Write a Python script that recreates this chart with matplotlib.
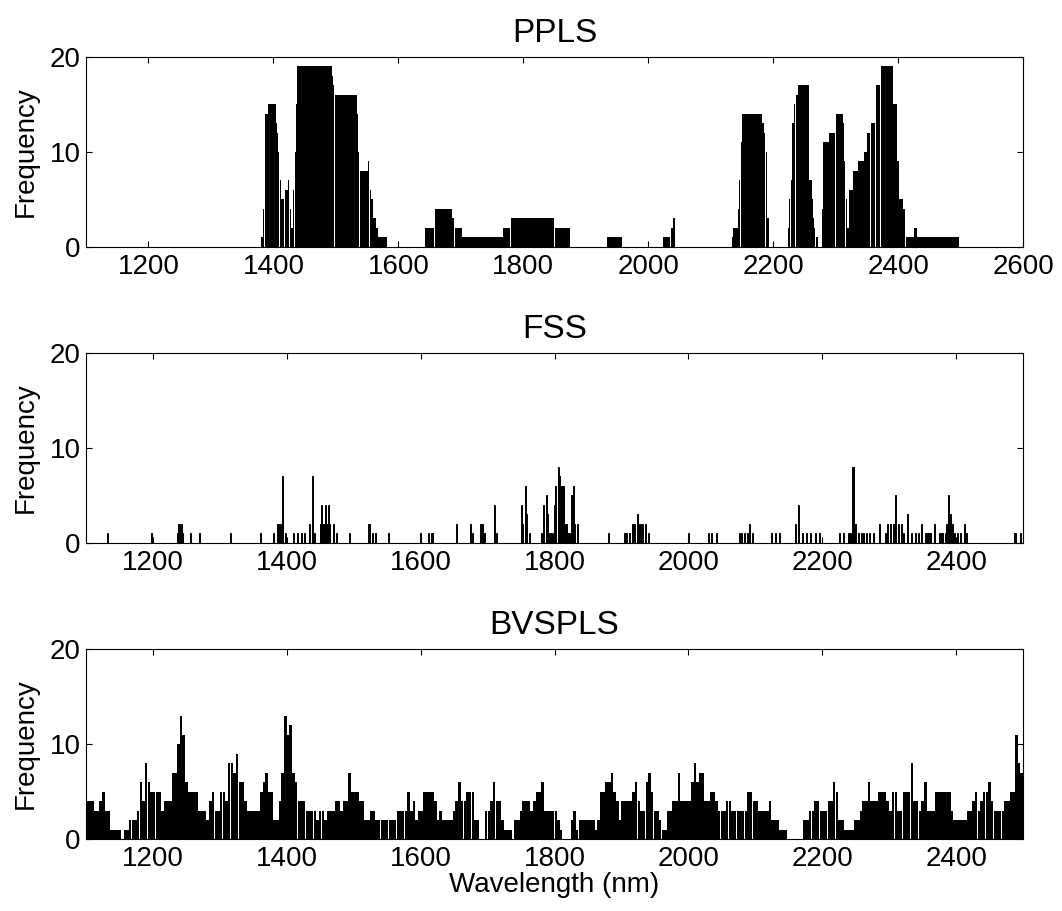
import numpy as np
import matplotlib
matplotlib.use("Agg")
from matplotlib import pyplot as plt

plt.rcParams['font.family'] = ['Liberation Sans', 'DejaVu Sans']
plt.rcParams['font.size'] = 20

# PPLS: runs of constant frequency, start/end wavelength (nm)
ppls_start = [1380, 1384, 1386, 1392, 1404, 1406, 1408, 1410, 1412, 1418, 1424, 1426, 1428, 1432,
              1434, 1436, 1438, 1494, 1496, 1498, 1534, 1536, 1538, 1552, 1554, 1556, 1560, 1564, 1568,
              1642, 1658, 1686, 1690, 1702, 1768, 1780, 1850,
              1934, 2024, 2036, 2040,
              2134, 2136, 2144, 2146, 2148, 2150, 2182, 2186, 2188, 2190,
              2224, 2226, 2228, 2230, 2234, 2236, 2240, 2258, 2262, 2264, 2266, 2268,
              2278, 2280, 2290, 2300, 2312, 2314, 2316, 2318, 2322, 2328, 2336, 2346, 2350, 2356,
              2364, 2372, 2392, 2398, 2402, 2408, 2412, 2426, 2430]
ppls_end = [1384, 1386, 1392, 1404, 1406, 1408, 1410, 1412, 1418, 1424, 1426, 1428, 1432, 1434,
            1436, 1438, 1494, 1496, 1498, 1534, 1536, 1538, 1552, 1554, 1556, 1560, 1564, 1568, 1582,
            1658, 1686, 1690, 1702, 1768, 1780, 1850, 1876,
            1958, 2036, 2040, 2044,
            2136, 2144, 2146, 2148, 2150, 2182, 2186, 2188, 2190, 2194,
            2226, 2228, 2230, 2234, 2236, 2240, 2258, 2262, 2264, 2266, 2268, 2272,
            2280, 2290, 2300, 2312, 2314, 2316, 2318, 2322, 2328, 2336, 2346, 2350, 2356, 2364,
            2372, 2392, 2398, 2402, 2408, 2412, 2426, 2430, 2498]
ppls_freq = [1, 4, 14, 15, 13, 12, 10, 7, 5, 6, 7, 4, 2, 6,
             10, 15, 19, 18, 17, 16, 14, 10, 8, 9, 6, 5, 3, 2, 1,
             2, 4, 3, 2, 1, 2, 3, 2,
             1, 1, 2, 3,
             1, 2, 4, 7, 11, 14, 13, 12, 10, 3,
             2, 5, 7, 13, 15, 16, 17, 7, 5, 3, 2, 1,
             4, 11, 12, 14, 13, 9, 5, 2, 6, 8, 9, 10, 12, 13,
             17, 19, 15, 9, 5, 4, 1, 2, 1]

# FSS: single selected wavelengths
fss_wl = [1132, 1198, 1236, 1238, 1240, 1242, 1244, 1256, 1270, 1316, 1360, 1380,
          1386, 1388, 1390, 1394, 1398, 1410, 1416, 1422, 1426, 1434, 1438, 1442,
          1450, 1452, 1454, 1456, 1458, 1460, 1462, 1464, 1470, 1474, 1494,
          1522, 1524, 1528, 1532, 1552, 1600, 1612, 1616, 1618, 1654, 1674, 1678,
          1690, 1692, 1694, 1696, 1710, 1714, 1750, 1752, 1756, 1758, 1762,
          1780, 1784, 1788, 1790, 1792, 1796, 1798, 1800, 1802, 1806, 1808, 1810,
          1812, 1814, 1816, 1818, 1820, 1822, 1826, 1828, 1830, 1834, 1880,
          1904, 1906, 1908, 1912, 1916, 1918, 1920, 1924, 1926, 1928, 1932, 1936, 1940,
          2000, 2030, 2034, 2042, 2076, 2080, 2084, 2088, 2092, 2096, 2124, 2130, 2136,
          2160, 2164, 2170, 2176, 2182, 2190, 2196,
          2226, 2232, 2240, 2244, 2246, 2250, 2254, 2258, 2262, 2266, 2270, 2276,
          2286, 2294, 2298, 2302, 2306, 2310, 2314, 2318, 2322, 2328, 2334,
          2340, 2344, 2348, 2354, 2358, 2362, 2368,
          2376, 2380, 2384, 2386, 2388, 2392, 2394, 2398, 2402, 2406, 2412, 2416,
          2488, 2496]
fss_freq = [1, 1, 1, 2, 2, 2, 1, 1, 1, 1, 1, 1,
            2, 2, 2, 7, 1, 1, 1, 1, 1, 2, 7, 1,
            2, 4, 2, 2, 4, 2, 4, 2, 2, 1, 1,
            2, 2, 1, 1, 1, 1, 1, 1, 1, 2, 2, 1,
            2, 2, 1, 1, 4, 1, 4, 2, 6, 3, 1,
            1, 4, 5, 3, 1, 1, 1, 4, 6, 8, 7, 6,
            6, 6, 2, 2, 1, 1, 5, 6, 2, 2, 1,
            1, 1, 1, 1, 2, 2, 2, 3, 2, 2, 2, 2, 1,
            1, 1, 1, 1, 1, 1, 1, 1, 2, 1, 1, 1, 1,
            2, 4, 1, 1, 1, 1, 1,
            1, 1, 1, 1, 8, 2, 1, 1, 1, 1, 1, 1,
            2, 1, 2, 2, 2, 5, 2, 2, 1, 3, 1,
            1, 1, 2, 1, 1, 1, 2,
            1, 1, 1, 2, 5, 3, 2, 1, 1, 1, 2, 1,
            1, 1]

# BVSPLS: frequency every 4 nm from 1100 nm
bvs_first = 1100
bvs_step = 4
bvs_freq = [4, 4, 4, 3, 3, 4, 5, 3, 3, 1,
            1, 1, 1, 0, 1, 1, 2, 2, 2, 3,
            6, 4, 8, 6, 5, 5, 5, 5, 3, 4,
            4, 4, 7, 7, 10, 13, 11, 6, 5, 5,
            5, 5, 3, 3, 3, 2, 4, 5, 3, 3,
            5, 5, 4, 8, 8, 7, 9, 6, 6, 4,
            3, 3, 3, 3, 3, 5, 6, 7, 5, 5,
            2, 2, 4, 7, 13, 11, 12, 7, 6, 4,
            4, 4, 3, 3, 3, 3, 2, 3, 3, 2,
            3, 3, 3, 4, 4, 3, 4, 4, 7, 5,
            5, 5, 4, 4, 2, 2, 3, 3, 2, 2,
            2, 2, 2, 2, 2, 2, 3, 3,
            3, 3, 5, 3, 4, 2, 3, 3, 5, 5,
            5, 5, 4, 2, 3, 2, 2, 2, 2, 3,
            4, 6, 4, 4, 5, 5, 5, 2, 2, 0,
            0, 3, 3, 4, 6, 4, 4, 2, 1, 1,
            1, 0, 2, 2, 3, 4, 4, 4, 3, 4,
            5, 5, 6, 3, 3, 3, 3, 3, 2, 1,
            0, 0, 0, 2, 3, 1, 2, 2, 2, 2,
            2, 2, 1, 2, 5, 5, 6, 6, 7, 5,
            4, 2, 4, 4, 4, 4, 5, 6, 4, 3,
            3, 6, 7, 5, 3, 3, 2, 1, 1, 3,
            3, 4, 4, 7, 4, 4, 4, 4, 6, 8,
            6, 7, 7, 4, 4, 5, 5,
            4, 3, 3, 3, 4, 4, 3, 3, 3, 3,
            3, 3, 5, 5, 4, 4, 3, 3, 3, 3,
            4, 2, 2, 2, 1, 1, 1, 0, 0, 0,
            0, 0, 0, 2, 2, 3, 3, 4, 4, 3,
            3, 3, 4, 4, 6, 5, 2, 2, 1, 1,
            1, 1, 2, 2, 3, 4, 4, 6, 4, 4,
            4, 5, 5, 5, 4, 3, 5, 5, 3, 3,
            5, 5, 5, 8, 4, 4, 3, 4, 6, 3,
            3, 3, 5, 5, 5, 5, 5, 5, 3, 2,
            2, 2, 2, 2, 3, 3, 4, 5, 3, 4,
            5, 5, 6, 4, 3, 3, 3, 3, 4, 4,
            5, 5, 11, 8, 7]
bvs_wl = bvs_first + bvs_step * np.arange(len(bvs_freq))

fig = plt.figure(figsize=(10.62, 9.11), dpi=100)
bottoms = [0.7289, 0.404, 0.079]
axes = [fig.add_axes([0.081, b, 0.8823, 0.2086]) for b in bottoms]

ax = axes[0]
ax.bar(ppls_start, ppls_freq, width=np.subtract(ppls_end, ppls_start) - 0.5,
       align='edge', color='k', linewidth=0, antialiased=False)
ax.set_xlim(1100, 2600)
ax.set_xticks(range(1200, 2601, 200))
ax.set_title("PPLS", pad=11)

ax = axes[1]
ax.bar(fss_wl, fss_freq, width=1.6, color='k', edgecolor='k', linewidth=0.7)
ax.set_xlim(1100, 2500)
ax.set_xticks(range(1200, 2401, 200))
ax.set_title("FSS", pad=11)

ax = axes[2]
ax.bar(bvs_wl, bvs_freq, width=3.8, align='edge', color='k', linewidth=0, antialiased=False)
ax.set_xlim(1100, 2500)
ax.set_xticks(range(1200, 2401, 200))
ax.set_title("BVSPLS", pad=11)
ax.set_xlabel("Wavelength (nm)", labelpad=0)

for ax in axes:
    ax.set_ylim(0, 20)
    ax.set_yticks([0, 10, 20])
    ax.set_ylabel("Frequency", labelpad=8)
    ax.tick_params(direction='in', top=True, right=True, length=4, width=0.8)
    ax.tick_params(axis='x', pad=5)
    ax.tick_params(axis='y', pad=4)
    for s in ax.spines.values():
        s.set_linewidth(0.8)

fig.savefig("out.png", dpi=100)
